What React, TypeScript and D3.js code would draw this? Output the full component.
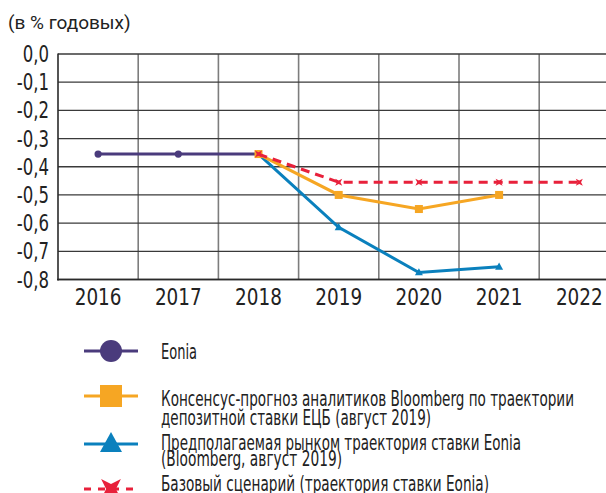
import React from "react";
import * as d3 from "d3";

const years = ["2016", "2017", "2018", "2019", "2020", "2021", "2022"];
const yTicks = [0, -0.1, -0.2, -0.3, -0.4, -0.5, -0.6, -0.7, -0.8];

const eonia: [string, number][] = [["2016", -0.355], ["2017", -0.355], ["2018", -0.355]];
const consensus: [string, number][] = [["2018", -0.355], ["2019", -0.5], ["2020", -0.55], ["2021", -0.5]];
const market: [string, number][] = [["2018", -0.355], ["2019", -0.615], ["2020", -0.775], ["2021", -0.755]];
const baseline: [string, number][] = [["2018", -0.355], ["2019", -0.455], ["2020", -0.455], ["2021", -0.455], ["2022", -0.455]];

const legendItems = [
  ["Eonia"],
  ["Консенсус-прогноз аналитиков Bloomberg по траектории", "депозитной ставки ЕЦБ (август 2019)"],
  ["Предполагаемая рынком траектория ставки Eonia", "(Bloomberg, август 2019)"],
  ["Базовый сценарий (траектория ставки Eonia)"],
];

const PURPLE = "#4a3b7c";
const ORANGE = "#f6a623";
const BLUE = "#0a80bd";
const RED = "#e8213b";
const COND = "'DejaVu Sans', sans-serif";

function Cross({ x, y, s, color }: { x: number; y: number; s: number; color: string }) {
  const pts: [number, number][] = [];
  const n = 4;
  for (let i = 0; i < n * 2; i++) {
    const a = Math.PI / 4 + (i * Math.PI) / n;
    const r = i % 2 === 0 ? s : s * 0.35;
    pts.push([x + r * Math.cos(a), y + r * Math.sin(a)]);
  }
  return <polygon points={pts.map((p) => p.join(",")).join(" ")} fill={color} />;
}

function Tri({ x, y, s, color }: { x: number; y: number; s: number; color: string }) {
  const h = s * 0.9;
  return (
    <polygon
      points={`${x},${y - h * 0.6} ${x - s / 2},${y + h * 0.4} ${x + s / 2},${y + h * 0.4}`}
      fill={color}
    />
  );
}

export default function App() {
  const W = 606, H = 493;
  const x = d3.scaleBand<string>().domain(years).range([58, 58 + 80.2 * 7]).padding(0);
  const y = d3.scaleLinear().domain([-0.8, 0]).range([279.5, 54]);
  const cx = (d: string) => (x(d) as number) + x.bandwidth() / 2;
  const line = d3.line<[string, number]>().x((d) => cx(d[0])).y((d) => y(d[1]));
  const fmt = (v: number) => (v === 0 ? "0,0" : d3.format(".1f")(v).replace("−", "-").replace(".", ","));

  const legendY = [351, 396, 444, 489];
  const textLines: { t: string; y: number; w: number }[] = [
    { t: legendItems[0][0], y: 359, w: 36 },
    { t: legendItems[1][0], y: 406, w: 413 },
    { t: legendItems[1][1], y: 425, w: 270 },
    { t: legendItems[2][0], y: 450, w: 360 },
    { t: legendItems[2][1], y: 466, w: 181 },
    { t: legendItems[3][0], y: 491, w: 328 },
  ];

  return (
    <svg width={W} height={H} style={{ position: "absolute", left: 0, top: 0, background: "#fff" }}>
      <text x={8} y={29} fontFamily="Roboto, 'Noto Sans', sans-serif" fontSize={19} fill="#222">
        (в % годовых)
      </text>

      {years.slice(1).map((yr) => (
        <line key={yr} x1={x(yr)} x2={x(yr)} y1={54} y2={279.5} stroke="#7d7d7d" strokeWidth={1.6} />
      ))}
      {yTicks.map((t) => (
        <line key={t} x1={58} x2={W} y1={y(t)} y2={y(t)} stroke="#3a3a3a" strokeWidth={1.3} />
      ))}
      <line x1={58} x2={58} y1={53.5} y2={280.5} stroke="#2a2a2a" strokeWidth={1.6} />
      <line x1={57} x2={W} y1={279.5} y2={279.5} stroke="#2a2a2a" strokeWidth={1.6} />

      {yTicks.map((t) => (
        <text
          key={t}
          transform={`translate(49,${y(t) + 8}) scale(0.72,1)`}
          textAnchor="end"
          fontFamily={COND}
          fontSize={23}
          fill="#222"
        >
          {fmt(t)}
        </text>
      ))}
      {years.map((yr) => (
        <text
          key={yr}
          transform={`translate(${cx(yr)},305) scale(0.8,1)`}
          textAnchor="middle"
          fontFamily={COND}
          fontSize={23}
          fill="#222"
        >
          {yr}
        </text>
      ))}

      <path d={line(eonia) || ""} fill="none" stroke={PURPLE} strokeWidth={3} />
      {eonia.map((d) => (
        <circle key={d[0]} cx={cx(d[0])} cy={y(d[1])} r={3.6} fill={PURPLE} />
      ))}
      <path d={line(market) || ""} fill="none" stroke={BLUE} strokeWidth={3} />
      {market.slice(1).map((d) => (
        <Tri key={d[0]} x={cx(d[0])} y={y(d[1])} s={8} color={BLUE} />
      ))}
      <path d={line(consensus) || ""} fill="none" stroke={ORANGE} strokeWidth={3} />
      {consensus.map((d) => (
        <rect key={d[0]} x={cx(d[0]) - 4} y={y(d[1]) - 4} width={8} height={8} fill={ORANGE} />
      ))}
      <path d={line(baseline) || ""} fill="none" stroke={RED} strokeWidth={3} strokeDasharray="9,6" />
      {baseline.map((d) => (
        <Cross key={d[0]} x={cx(d[0])} y={y(d[1])} s={5} color={RED} />
      ))}

      <line x1={84} x2={138} y1={legendY[0]} y2={legendY[0]} stroke={PURPLE} strokeWidth={3} />
      <circle cx={111} cy={legendY[0]} r={11} fill={PURPLE} />
      <line x1={84} x2={138} y1={legendY[1]} y2={legendY[1]} stroke={ORANGE} strokeWidth={3} />
      <rect x={100} y={legendY[1] - 11} width={22} height={22} fill={ORANGE} />
      <line x1={84} x2={138} y1={legendY[2]} y2={legendY[2]} stroke={BLUE} strokeWidth={3} />
      <Tri x={111} y={legendY[2]} s={22} color={BLUE} />
      <line x1={84} x2={138} y1={legendY[3]} y2={legendY[3]} stroke={RED} strokeWidth={3} strokeDasharray="7,7" />
      <Cross x={111} y={legendY[3]} s={14} color={RED} />

      {textLines.map((l, i) => (
        <text
          key={i}
          x={161}
          y={l.y}
          textLength={l.w}
          lengthAdjust="spacingAndGlyphs"
          fontFamily={COND}
          fontSize={20.5}
          fill="#222"
        >
          {l.t}
        </text>
      ))}
    </svg>
  );
}
